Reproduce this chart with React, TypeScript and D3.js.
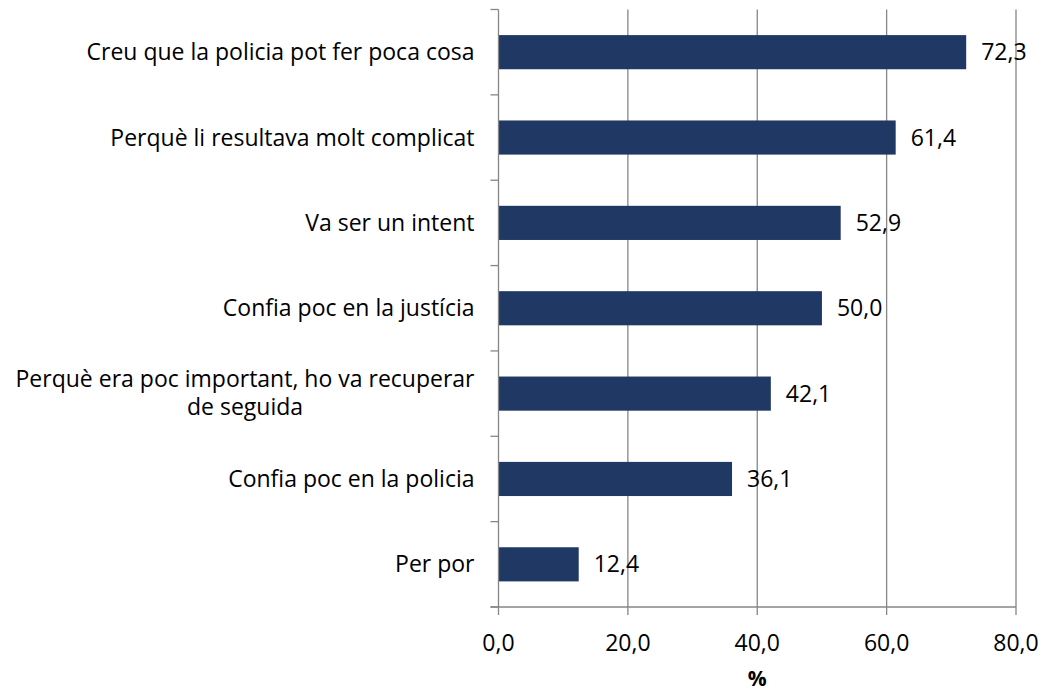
import React, { useEffect, useRef } from "react";
import * as d3 from "d3";

const categories: string[][] = [
  ["Creu que la policia pot fer poca cosa"],
  ["Perquè li resultava molt complicat"],
  ["Va ser un intent"],
  ["Confia poc en la justícia"],
  ["Perquè era poc important, ho va recuperar", "de seguida"],
  ["Confia poc en la policia"],
  ["Per por"],
];
const values: number[] = [72.3, 61.4, 52.9, 50.0, 42.1, 36.1, 12.4];
const xTicks: number[] = [0, 20, 40, 60, 80];
const axisTitle = "%";

const W = 1046;
const H = 692;
const FONT = "'Open Sans', sans-serif";
const FS = 23;

export default function App() {
  const ref = useRef<SVGSVGElement | null>(null);

  useEffect(() => {
    const svg = d3.select(ref.current);
    svg.selectAll("*").remove();
    const left = 498.5, right = 1016, top = 9.5, bottom = 607;
    const x = d3.scaleLinear().domain([0, 80]).range([left, right]);
    const y = d3
      .scaleBand<number>()
      .domain(d3.range(categories.length))
      .range([top, bottom])
      .paddingInner(0.6)
      .paddingOuter(0.3);
    const step = (bottom - top) / categories.length;
    const fmt = (v: number) => d3.format(".1f")(v).replace(".", ",");

    svg
      .append("g")
      .selectAll("line")
      .data(xTicks.slice(1))
      .join("line")
      .attr("x1", (d) => x(d))
      .attr("x2", (d) => x(d))
      .attr("y1", top)
      .attr("y2", bottom)
      .attr("stroke", "#868686")
      .attr("stroke-width", 1.3);

    svg
      .append("g")
      .selectAll("rect")
      .data(values)
      .join("rect")
      .attr("x", x(0))
      .attr("y", (_, i) => y(i)!)
      .attr("width", (d) => x(d) - x(0))
      .attr("height", y.bandwidth())
      .attr("fill", "#203864");

    const g = svg.append("g").attr("stroke", "#868686").attr("stroke-width", 1.3);
    g.append("line")
      .attr("x1", left)
      .attr("x2", left)
      .attr("y1", top)
      .attr("y2", bottom);
    for (let i = 0; i <= categories.length; i++) {
      const yy = top + i * step;
      g.append("line")
        .attr("x1", left - 8)
        .attr("x2", left)
        .attr("y1", yy)
        .attr("y2", yy);
    }
    g.append("line")
      .attr("x1", left - 8)
      .attr("x2", right)
      .attr("y1", bottom)
      .attr("y2", bottom);
    xTicks.forEach((t) => {
      g.append("line")
        .attr("x1", x(t))
        .attr("x2", x(t))
        .attr("y1", bottom)
        .attr("y2", bottom + 8);
    });
    svg
      .append("g")
      .selectAll("text")
      .data(xTicks)
      .join("text")
      .attr("x", (d) => x(d))
      .attr("y", 651)
      .attr("text-anchor", "middle")
      .attr("font-family", FONT)
      .attr("font-size", FS)
      .attr("fill", "#000")
      .text((d) => fmt(d));
    svg
      .append("text")
      .attr("x", (left + right) / 2)
      .attr("y", 686)
      .attr("text-anchor", "middle")
      .attr("font-family", FONT)
      .attr("font-size", 21)
      .attr("font-weight", "bold")
      .attr("fill", "#000")
      .text(axisTitle);

    const labelX = left - 24;
    categories.forEach((lines, i) => {
      const cy = y(i)! + y.bandwidth() / 2;
      const lh = 28;
      const n = lines.length;
      const t = svg
        .append("text")
        .attr("font-family", FONT)
        .attr("font-size", FS)
        .attr("fill", "#000");
      let w0 = 0;
      lines.forEach((ln, k) => {
        const ts = t
          .append("tspan")
          .attr("y", cy + (k - (n - 1) / 2) * lh)
          .attr("dy", n > 1 ? "0.3em" : "0.35em")
          .text(ln);
        if (k === 0) {
          ts.attr("x", labelX).attr("text-anchor", "end");
          w0 = (ts.node() as SVGTSpanElement).getComputedTextLength();
        } else {
          ts.attr("x", labelX - w0 / 2).attr("text-anchor", "middle");
        }
      });
    });

    svg
      .append("g")
      .selectAll("text")
      .data(values)
      .join("text")
      .attr("x", (d) => x(d) + 15)
      .attr("y", (_, i) => y(i)! + y.bandwidth() / 2)
      .attr("dy", "0.35em")
      .attr("font-family", FONT)
      .attr("font-size", FS)
      .attr("fill", "#000")
      .text((d) => fmt(d));
  }, []);

  return (
    <svg
      ref={ref}
      width={W}
      height={H}
      style={{ position: "absolute", left: 0, top: 0, background: "#fff" }}
    />
  );
}
